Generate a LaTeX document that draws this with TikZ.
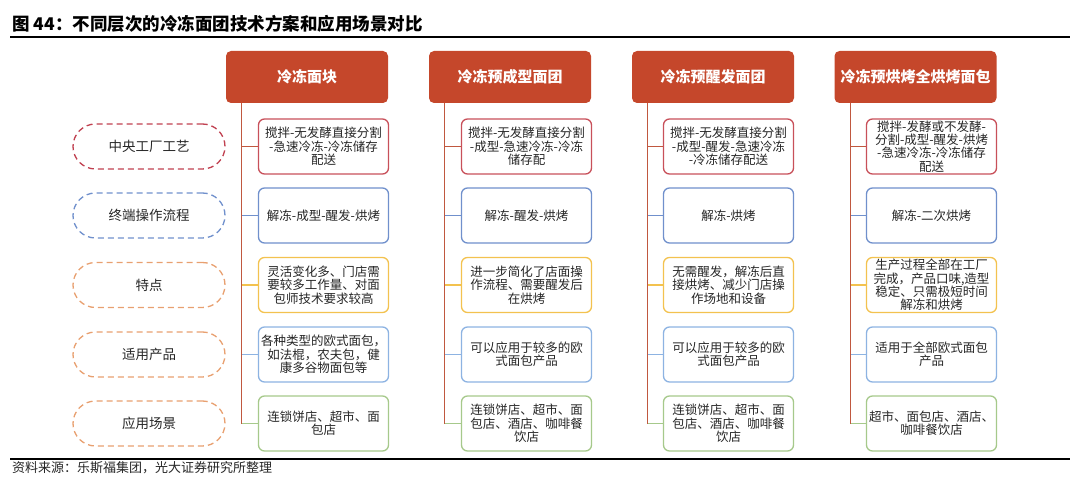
\documentclass[tikz,border=0pt]{standalone}
\usepackage{fontspec}
\setmainfont{Noto Sans CJK SC}

\definecolor{headred}{HTML}{C5472B}
\definecolor{trunkred}{HTML}{C0583F}
\definecolor{boxred}{HTML}{C8505A}
\definecolor{ovalred}{HTML}{C04050}
\definecolor{boxblue}{HTML}{7090CC}
\definecolor{boxyellow}{HTML}{F3C24F}
\definecolor{boxsky}{HTML}{8DB3E2}
\definecolor{boxgreen}{HTML}{A6C98B}
\definecolor{ovalorange}{HTML}{E8A070}
\definecolor{txtgray}{HTML}{262626}

\tikzset{
  head/.style={fill=headred, rounded corners=5pt, minimum width=162pt, minimum height=52pt,
    inner sep=0pt, text=white, font=\fontsize{15}{17}\selectfont\bfseries},
  cell/.style={draw=#1, line width=1.3pt, rounded corners=6pt, fill=white, minimum width=130pt,
    minimum height=55pt, inner sep=0pt, align=center, text=txtgray,
    font=\fontsize{12.5}{13.3}\selectfont},
  oval/.style={draw=#1, line width=1.3pt, dash pattern=on 6pt off 4pt, rounded corners=22.5pt,
    minimum width=152pt, minimum height=45pt, inner sep=0pt, text=txtgray,
    font=\fontsize{13.5}{15}\selectfont},
  branch/.style={draw=#1, line width=1.3pt}
}

\begin{document}
\begin{tikzpicture}[x=1pt,y=-1pt]
  \useasboundingbox (0,0) rectangle (1080,500);

  % title and rules
  \node (title) at (12,24) [anchor=west, inner sep=0pt, text=black, font=\fontsize{17.5}{19}\selectfont\bfseries]
    {图 44：不同层次的冷冻面团技术方案和应用场景对比};
  \coordinate (r1) at (10,37);
  \coordinate (r2) at (1070,37);
  \draw[line width=1.5pt] (r1)--(r2);
  \coordinate (r3) at (10,459);
  \coordinate (r4) at (1070,459);
  \draw[line width=1.8pt] (r3)--(r4);
  \node (src) at (12,468) [anchor=west, inner sep=0pt, text=txtgray, font=\fontsize{13}{15}\selectfont]
    {资料来源：乐斯福集团，光大证券研究所整理};

  % row labels
  \node (o1) at (149,146.5) [oval=ovalred]    {中央工厂工艺};
  \node (o2) at (149,215.5) [oval=boxblue]    {终端操作流程};
  \node (o3) at (149,285)   [oval=ovalorange] {特点};
  \node (o4) at (149,354.5) [oval=ovalorange] {适用产品};
  \node (o5) at (149,423.5) [oval=ovalorange] {应用场景};

  % headers
  \node (h1) at (307,77) [head] {冷冻面块};
  \node (h2) at (510,77) [head] {冷冻预成型面团};
  \node (h3) at (713,77) [head] {冷冻预醒发面团};
  \node (h4) at (915.5,77) [head] {冷冻预烘烤全烘烤面包};

  % column 1
  \node (b11) at (323.5,146.5) [cell=boxred]    {搅拌-无发酵直接分割\\-急速冷冻-冷冻储存\\配送};
  \node (b12) at (323.5,215.5) [cell=boxblue]   {解冻-成型-醒发-烘烤};
  \node (b13) at (323.5,285)   [cell=boxyellow] {灵活变化多、门店需\\要较多工作量、对面\\包师技术要求较高};
  \node (b14) at (323.5,354.5) [cell=boxsky]    {各种类型的欧式面包，\\如法棍，农夫包，健\\康多谷物面包等};
  \node (b15) at (323.5,423.5) [cell=boxgreen]  {连锁饼店、超市、面\\包店};

  % column 2
  \node (b21) at (526.5,146.5) [cell=boxred]    {搅拌-无发酵直接分割\\-成型-急速冷冻-冷冻\\储存配};
  \node (b22) at (526.5,215.5) [cell=boxblue]   {解冻-醒发-烘烤};
  \node (b23) at (526.5,285)   [cell=boxyellow] {进一步简化了店面操\\作流程、需要醒发后\\在烘烤};
  \node (b24) at (526.5,354.5) [cell=boxsky]    {可以应用于较多的欧\\式面包产品};
  \node (b25) at (526.5,423.5) [cell=boxgreen]  {连锁饼店、超市、面\\包店、酒店、咖啡餐\\饮店};

  % column 3
  \node (b31) at (728.5,146.5) [cell=boxred]    {搅拌-无发酵直接分割\\-成型-醒发-急速冷冻\\-冷冻储存配送};
  \node (b32) at (728.5,215.5) [cell=boxblue]   {解冻-烘烤};
  \node (b33) at (728.5,285)   [cell=boxyellow] {无需醒发，解冻后直\\接烘烤、减少门店操\\作场地和设备};
  \node (b34) at (728.5,354.5) [cell=boxsky]    {可以应用于较多的欧\\式面包产品};
  \node (b35) at (728.5,423.5) [cell=boxgreen]  {连锁饼店、超市、面\\包店、酒店、咖啡餐\\饮店};

  % column 4
  \node (b41) at (931.5,146.5) [cell=boxred]    {搅拌-发酵或不发酵-\\分割-成型-醒发-烘烤\\-急速冷冻-冷冻储存\\配送};
  \node (b42) at (931.5,215.5) [cell=boxblue]   {解冻-二次烘烤};
  \node (b43) at (931.5,285)   [cell=boxyellow] {生产过程全部在工厂\\完成，产品口味,造型\\稳定、只需极短时间\\解冻和烘烤};
  \node (b44) at (931.5,354.5) [cell=boxsky]    {适用于全部欧式面包\\产品};
  \node (b45) at (931.5,423.5) [cell=boxgreen]  {超市、面包店、酒店、\\咖啡餐饮店};

  % branches and trunks
  \foreach \c in {1,2,3,4} {
    \coordinate (t\c) at ([xshift=16pt]h\c.south west);
    \draw[branch=trunkred]  (t\c |- b\c1.west) -- (b\c1.west);
    \draw[branch=boxblue]   (t\c |- b\c2.west) -- (b\c2.west);
    \draw[branch=boxyellow] (t\c |- b\c3.west) -- (b\c3.west);
    \draw[branch=boxsky]    (t\c |- b\c4.west) -- (b\c4.west);
    \draw[branch=boxgreen]  (t\c |- b\c5.west) -- (b\c5.west);
    \draw[branch=trunkred]  (t\c) -- (t\c |- b\c5.west);
  }
\end{tikzpicture}
\end{document}
